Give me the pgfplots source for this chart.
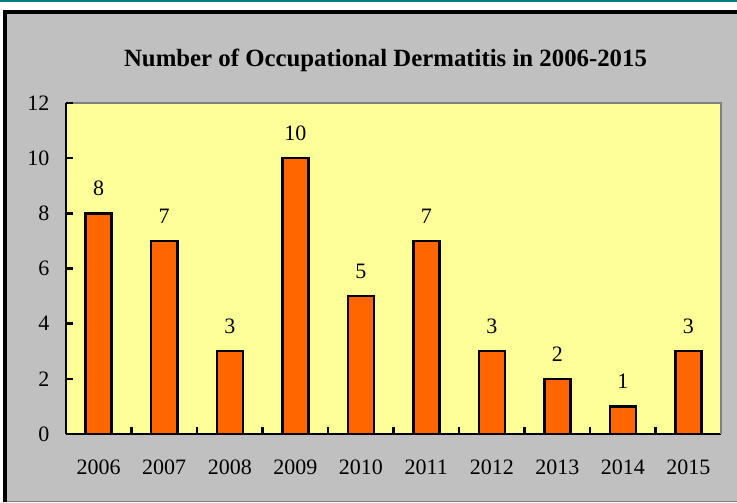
\documentclass[border=0pt]{standalone}
\usepackage{fontspec}
\setmainfont{Liberation Serif}
\usepackage{pgfplots}
\pgfplotsset{compat=1.18}
\definecolor{bggray}{HTML}{C0C0C0}
\definecolor{plotyellow}{HTML}{FFFF99}
\definecolor{barorange}{HTML}{FF6600}
\definecolor{topteal}{HTML}{008080}
\definecolor{bordergray}{HTML}{808080}
\newcommand{\tickfont}{\fontsize{22}{26}\selectfont}
\begin{document}
\begin{tikzpicture}
\useasboundingbox (0pt,0pt) rectangle (737pt,503pt);
\fill[white] (0pt,0pt) rectangle (737pt,503pt);
\draw[topteal, line width=2pt] (0pt,502pt) -- (737pt,502pt);
\fill[bggray] (3pt,2pt) rectangle (737pt,493pt);
\draw[bordergray, line width=1.5pt] (3pt,1.5pt) -- (737pt,1.5pt);
\draw[black, line width=4pt] (5pt,1pt) -- (5pt,491pt) -- (737pt,491pt);
\node[anchor=base, font=\fontsize{24.8}{29}\selectfont\bfseries] at (385.5pt,436.5pt) {Number of Occupational Dermatitis in 2006-2015};
\begin{axis}[
  at={(66pt,69pt)}, anchor=south west,
  scale only axis, width=655pt, height=331pt,
  xmin=0, xmax=10, ymin=0, ymax=12,
  axis x line*=bottom, axis y line*=left,
  axis line style={black, line width=2.5pt},
  axis background/.style={fill=plotyellow},
  xtick={0.5,1.5,...,9.5},
  xticklabels={2006,2007,2008,2009,2010,2011,2012,2013,2014,2015},
  ytick={0,2,...,12},
  major tick length=0pt,
  xticklabel style={font=\tickfont, inner sep=0pt, yshift=-26pt},
  yticklabel style={font=\tickfont, inner sep=0pt, xshift=-16.5pt},
  /pgf/number format/assume math mode=true,
  clip=false,
]
\addplot[ybar, bar width=26pt, fill=barorange, draw=black, line width=2.5pt,
  nodes near coords,
  every node near coord/.append style={font=\tickfont, text=black, anchor=south, inner sep=0pt, yshift=16.5pt}]
  coordinates {(0.5,8) (1.5,7) (2.5,3) (3.5,10) (4.5,5) (5.5,7) (6.5,3) (7.5,2) (8.5,1) (9.5,3)};
\draw[bordergray, line width=2.5pt] (rel axis cs:0,1) -- (rel axis cs:1,1) -- (rel axis cs:1,0);
% tick marks (inward)
\draw[black, line width=2.5pt]
  (axis cs:0,2) -- ++(7pt,0pt) (axis cs:0,4) -- ++(7pt,0pt) (axis cs:0,6) -- ++(7pt,0pt)
  (axis cs:0,8) -- ++(7pt,0pt) (axis cs:0,10) -- ++(7pt,0pt) (axis cs:0,12) -- ++(7pt,0pt)
  (axis cs:1,0) -- ++(0pt,7pt) (axis cs:2,0) -- ++(0pt,7pt) (axis cs:3,0) -- ++(0pt,7pt)
  (axis cs:4,0) -- ++(0pt,7pt) (axis cs:5,0) -- ++(0pt,7pt) (axis cs:6,0) -- ++(0pt,7pt)
  (axis cs:7,0) -- ++(0pt,7pt) (axis cs:8,0) -- ++(0pt,7pt) (axis cs:9,0) -- ++(0pt,7pt);
\end{axis}
\end{tikzpicture}
\end{document}
